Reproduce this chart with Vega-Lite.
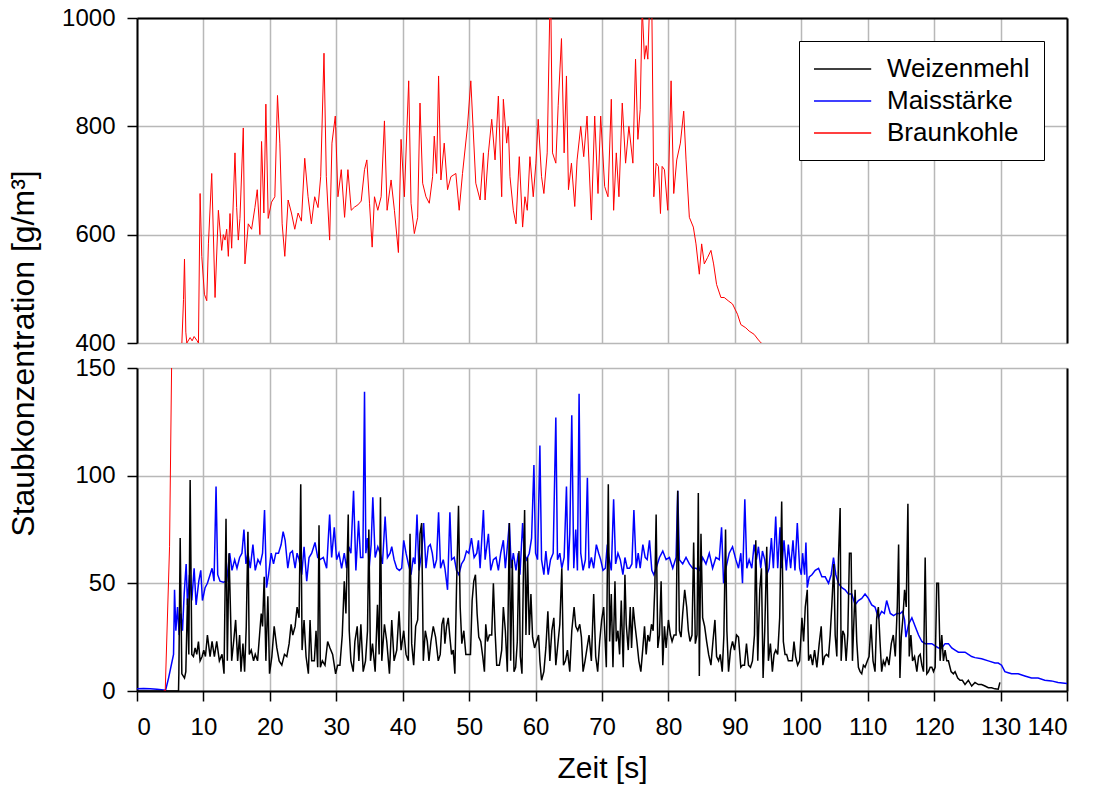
{
"$schema": "https://vega.github.io/schema/vega-lite/v6.json",
"background": "white",
"padding": {"left": 7, "top": 4, "right": 5, "bottom": 5},
"spacing": 25,
"bounds": "flush",
"config": {
  "view": {"stroke": null},
  "font": "Liberation Sans",
  "axis": {"labelFont": "Liberation Sans", "titleFont": "Liberation Sans", "labelColor": "black", "titleColor": "black", "labelFontSize": 24, "titleFontSize": 28, "titleFontWeight": "normal", "gridColor": "#b8b8b8", "gridWidth": 1.5, "gridOpacity": 1, "domainColor": "black", "domainWidth": 2, "tickColor": "black", "tickSize": 10, "tickWidth": 1.5}
},
"resolve": {"legend": {"color": "independent"}},
"datasets": {"d": [
{"s":"Braunkohle","t":4.0,"v":0},{"s":"Braunkohle","t":4.25,"v":0},{"s":"Braunkohle","t":4.9,"v":67},{"s":"Braunkohle","t":5.3,"v":175},{"s":"Braunkohle","t":6.0,"v":300},{"s":"Braunkohle","t":6.75,"v":398},{"s":"Braunkohle","t":7.0,"v":480},{"s":"Braunkohle","t":7.15,"v":555},{"s":"Braunkohle","t":7.35,"v":420},{"s":"Braunkohle","t":7.5,"v":400},{"s":"Braunkohle","t":8.0,"v":410},{"s":"Braunkohle","t":8.3,"v":404},{"s":"Braunkohle","t":8.6,"v":412},{"s":"Braunkohle","t":9.0,"v":405},{"s":"Braunkohle","t":9.25,"v":400},{"s":"Braunkohle","t":9.5,"v":676},{"s":"Braunkohle","t":9.75,"v":560},{"s":"Braunkohle","t":10.15,"v":490},{"s":"Braunkohle","t":10.5,"v":478},{"s":"Braunkohle","t":10.75,"v":583},{"s":"Braunkohle","t":11.25,"v":713},{"s":"Braunkohle","t":11.75,"v":484},{"s":"Braunkohle","t":12.25,"v":645},{"s":"Braunkohle","t":12.75,"v":571},{"s":"Braunkohle","t":13.0,"v":600},{"s":"Braunkohle","t":13.25,"v":590},{"s":"Braunkohle","t":13.5,"v":610},{"s":"Braunkohle","t":13.75,"v":560},{"s":"Braunkohle","t":14.0,"v":639},{"s":"Braunkohle","t":14.25,"v":575},{"s":"Braunkohle","t":14.75,"v":751},{"s":"Braunkohle","t":15.0,"v":650},{"s":"Braunkohle","t":15.25,"v":590},{"s":"Braunkohle","t":15.5,"v":630},{"s":"Braunkohle","t":16.0,"v":797},{"s":"Braunkohle","t":16.25,"v":546},{"s":"Braunkohle","t":16.75,"v":620},{"s":"Braunkohle","t":17.25,"v":610},{"s":"Braunkohle","t":17.75,"v":650},{"s":"Braunkohle","t":18.1,"v":683},{"s":"Braunkohle","t":18.5,"v":600},{"s":"Braunkohle","t":18.75,"v":772},{"s":"Braunkohle","t":19.1,"v":640},{"s":"Braunkohle","t":19.4,"v":841},{"s":"Braunkohle","t":19.75,"v":630},{"s":"Braunkohle","t":20.25,"v":660},{"s":"Braunkohle","t":20.75,"v":670},{"s":"Braunkohle","t":21.15,"v":857},{"s":"Braunkohle","t":21.5,"v":769},{"s":"Braunkohle","t":21.85,"v":620},{"s":"Braunkohle","t":22.25,"v":560},{"s":"Braunkohle","t":22.75,"v":664},{"s":"Braunkohle","t":23.25,"v":640},{"s":"Braunkohle","t":23.75,"v":610},{"s":"Braunkohle","t":24.25,"v":640},{"s":"Braunkohle","t":24.75,"v":625},{"s":"Braunkohle","t":25.25,"v":741},{"s":"Braunkohle","t":25.75,"v":670},{"s":"Braunkohle","t":26.25,"v":620},{"s":"Braunkohle","t":26.75,"v":670},{"s":"Braunkohle","t":27.25,"v":650},{"s":"Braunkohle","t":27.65,"v":707},{"s":"Braunkohle","t":28.15,"v":935},{"s":"Braunkohle","t":28.5,"v":707},{"s":"Braunkohle","t":29.0,"v":590},{"s":"Braunkohle","t":29.35,"v":769},{"s":"Braunkohle","t":29.85,"v":819},{"s":"Braunkohle","t":30.25,"v":670},{"s":"Braunkohle","t":30.75,"v":720},{"s":"Braunkohle","t":31.25,"v":632},{"s":"Braunkohle","t":31.75,"v":720},{"s":"Braunkohle","t":32.25,"v":645},{"s":"Braunkohle","t":32.75,"v":651},{"s":"Braunkohle","t":33.25,"v":655},{"s":"Braunkohle","t":33.75,"v":662},{"s":"Braunkohle","t":34.25,"v":720},{"s":"Braunkohle","t":34.6,"v":738},{"s":"Braunkohle","t":35.0,"v":658},{"s":"Braunkohle","t":35.4,"v":577},{"s":"Braunkohle","t":35.75,"v":670},{"s":"Braunkohle","t":36.25,"v":645},{"s":"Braunkohle","t":36.75,"v":670},{"s":"Braunkohle","t":37.25,"v":810},{"s":"Braunkohle","t":37.65,"v":645},{"s":"Braunkohle","t":38.25,"v":701},{"s":"Braunkohle","t":38.75,"v":645},{"s":"Braunkohle","t":39.35,"v":567},{"s":"Braunkohle","t":39.75,"v":776},{"s":"Braunkohle","t":40.25,"v":670},{"s":"Braunkohle","t":40.9,"v":884},{"s":"Braunkohle","t":41.25,"v":658},{"s":"Braunkohle","t":41.75,"v":602},{"s":"Braunkohle","t":42.25,"v":632},{"s":"Braunkohle","t":42.6,"v":843},{"s":"Braunkohle","t":43.0,"v":695},{"s":"Braunkohle","t":43.5,"v":670},{"s":"Braunkohle","t":44.0,"v":658},{"s":"Braunkohle","t":44.5,"v":707},{"s":"Braunkohle","t":44.75,"v":782},{"s":"Braunkohle","t":45.1,"v":713},{"s":"Braunkohle","t":45.4,"v":893},{"s":"Braunkohle","t":45.75,"v":701},{"s":"Braunkohle","t":46.25,"v":769},{"s":"Braunkohle","t":46.75,"v":683},{"s":"Braunkohle","t":47.25,"v":707},{"s":"Braunkohle","t":48.0,"v":713},{"s":"Braunkohle","t":48.5,"v":645},{"s":"Braunkohle","t":49.0,"v":713},{"s":"Braunkohle","t":49.75,"v":800},{"s":"Braunkohle","t":50.25,"v":884},{"s":"Braunkohle","t":51.0,"v":695},{"s":"Braunkohle","t":51.65,"v":664},{"s":"Braunkohle","t":52.15,"v":751},{"s":"Braunkohle","t":52.4,"v":664},{"s":"Braunkohle","t":52.9,"v":751},{"s":"Braunkohle","t":53.4,"v":813},{"s":"Braunkohle","t":53.9,"v":738},{"s":"Braunkohle","t":54.4,"v":856},{"s":"Braunkohle","t":54.9,"v":670},{"s":"Braunkohle","t":55.15,"v":850},{"s":"Braunkohle","t":55.65,"v":769},{"s":"Braunkohle","t":55.9,"v":800},{"s":"Braunkohle","t":56.15,"v":707},{"s":"Braunkohle","t":56.65,"v":645},{"s":"Braunkohle","t":57.05,"v":620},{"s":"Braunkohle","t":57.55,"v":744},{"s":"Braunkohle","t":58.05,"v":614},{"s":"Braunkohle","t":58.4,"v":670},{"s":"Braunkohle","t":58.75,"v":645},{"s":"Braunkohle","t":59.15,"v":744},{"s":"Braunkohle","t":59.65,"v":670},{"s":"Braunkohle","t":60.05,"v":732},{"s":"Braunkohle","t":60.4,"v":813},{"s":"Braunkohle","t":60.9,"v":707},{"s":"Braunkohle","t":61.25,"v":676},{"s":"Braunkohle","t":61.75,"v":751},{"s":"Braunkohle","t":62.15,"v":1020},{"s":"Braunkohle","t":62.3,"v":1020},{"s":"Braunkohle","t":62.55,"v":751},{"s":"Braunkohle","t":63.05,"v":732},{"s":"Braunkohle","t":63.4,"v":838},{"s":"Braunkohle","t":63.9,"v":962},{"s":"Braunkohle","t":64.3,"v":751},{"s":"Braunkohle","t":64.65,"v":893},{"s":"Braunkohle","t":64.95,"v":683},{"s":"Braunkohle","t":65.4,"v":732},{"s":"Braunkohle","t":65.9,"v":652},{"s":"Braunkohle","t":66.25,"v":738},{"s":"Braunkohle","t":66.8,"v":800},{"s":"Braunkohle","t":67.25,"v":744},{"s":"Braunkohle","t":67.75,"v":819},{"s":"Braunkohle","t":68.4,"v":627},{"s":"Braunkohle","t":68.9,"v":819},{"s":"Braunkohle","t":69.4,"v":676},{"s":"Braunkohle","t":69.8,"v":819},{"s":"Braunkohle","t":70.4,"v":689},{"s":"Braunkohle","t":70.9,"v":670},{"s":"Braunkohle","t":71.4,"v":850},{"s":"Braunkohle","t":71.75,"v":645},{"s":"Braunkohle","t":72.15,"v":751},{"s":"Braunkohle","t":72.55,"v":670},{"s":"Braunkohle","t":73.05,"v":843},{"s":"Braunkohle","t":73.55,"v":732},{"s":"Braunkohle","t":74.05,"v":800},{"s":"Braunkohle","t":74.65,"v":732},{"s":"Braunkohle","t":75.05,"v":924},{"s":"Braunkohle","t":75.4,"v":776},{"s":"Braunkohle","t":75.75,"v":831},{"s":"Braunkohle","t":76.05,"v":1020},{"s":"Braunkohle","t":76.4,"v":924},{"s":"Braunkohle","t":76.65,"v":949},{"s":"Braunkohle","t":76.9,"v":924},{"s":"Braunkohle","t":77.15,"v":1020},{"s":"Braunkohle","t":77.5,"v":1020},{"s":"Braunkohle","t":77.8,"v":670},{"s":"Braunkohle","t":78.15,"v":732},{"s":"Braunkohle","t":78.5,"v":726},{"s":"Braunkohle","t":78.8,"v":639},{"s":"Braunkohle","t":79.05,"v":726},{"s":"Braunkohle","t":79.4,"v":720},{"s":"Braunkohle","t":79.9,"v":645},{"s":"Braunkohle","t":80.4,"v":884},{"s":"Braunkohle","t":80.8,"v":676},{"s":"Braunkohle","t":81.25,"v":738},{"s":"Braunkohle","t":81.8,"v":769},{"s":"Braunkohle","t":82.3,"v":828},{"s":"Braunkohle","t":82.65,"v":738},{"s":"Braunkohle","t":83.15,"v":632},{"s":"Braunkohle","t":83.75,"v":614},{"s":"Braunkohle","t":84.15,"v":583},{"s":"Braunkohle","t":84.65,"v":527},{"s":"Braunkohle","t":85.0,"v":583},{"s":"Braunkohle","t":85.4,"v":546},{"s":"Braunkohle","t":85.9,"v":558},{"s":"Braunkohle","t":86.4,"v":571},{"s":"Braunkohle","t":86.8,"v":546},{"s":"Braunkohle","t":87.25,"v":508},{"s":"Braunkohle","t":87.9,"v":484},{"s":"Braunkohle","t":88.4,"v":484},{"s":"Braunkohle","t":89.0,"v":478},{"s":"Braunkohle","t":89.65,"v":472},{"s":"Braunkohle","t":90.4,"v":453},{"s":"Braunkohle","t":90.9,"v":434},{"s":"Braunkohle","t":91.65,"v":428},{"s":"Braunkohle","t":92.15,"v":422},{"s":"Braunkohle","t":92.9,"v":416},{"s":"Braunkohle","t":93.65,"v":404},{"s":"Braunkohle","t":94.15,"v":398},{"s":"Braunkohle","t":94.5,"v":390},
{"s":"Maisstärke","t":0,"v":1},{"s":"Maisstärke","t":1,"v":1.2},{"s":"Maisstärke","t":2,"v":1},{"s":"Maisstärke","t":3,"v":0.8},{"s":"Maisstärke","t":4,"v":0.5},{"s":"Maisstärke","t":4.3,"v":0.3},{"s":"Maisstärke","t":4.75,"v":6},{"s":"Maisstärke","t":5.5,"v":17},{"s":"Maisstärke","t":5.65,"v":47},{"s":"Maisstärke","t":5.85,"v":28},{"s":"Maisstärke","t":6.1,"v":39},{"s":"Maisstärke","t":6.35,"v":26},{"s":"Maisstärke","t":6.6,"v":36},{"s":"Maisstärke","t":6.85,"v":28},{"s":"Maisstärke","t":7.1,"v":45},{"s":"Maisstärke","t":7.4,"v":59},{"s":"Maisstärke","t":7.6,"v":40},{"s":"Maisstärke","t":7.9,"v":54},{"s":"Maisstärke","t":8.25,"v":42},{"s":"Maisstärke","t":8.6,"v":57},{"s":"Maisstärke","t":8.9,"v":40},{"s":"Maisstärke","t":9.3,"v":51},{"s":"Maisstärke","t":9.6,"v":56},{"s":"Maisstärke","t":9.85,"v":42},{"s":"Maisstärke","t":10.25,"v":48},{"s":"Maisstärke","t":10.6,"v":50},{"s":"Maisstärke","t":11.0,"v":54},{"s":"Maisstärke","t":11.3,"v":57},{"s":"Maisstärke","t":11.6,"v":51},{"s":"Maisstärke","t":11.9,"v":95},{"s":"Maisstärke","t":12.15,"v":54},{"s":"Maisstärke","t":12.5,"v":51},{"s":"Maisstärke","t":13.0,"v":50.5},{"s":"Maisstärke","t":13.5,"v":51},{"s":"Maisstärke","t":13.95,"v":64},{"s":"Maisstärke","t":14.3,"v":56},{"s":"Maisstärke","t":14.7,"v":61},{"s":"Maisstärke","t":15.05,"v":57},{"s":"Maisstärke","t":15.45,"v":62},{"s":"Maisstärke","t":15.8,"v":64},{"s":"Maisstärke","t":16.1,"v":75},{"s":"Maisstärke","t":16.4,"v":59},{"s":"Maisstärke","t":16.7,"v":64},{"s":"Maisstärke","t":17.05,"v":57},{"s":"Maisstärke","t":17.45,"v":68},{"s":"Maisstärke","t":17.8,"v":56},{"s":"Maisstärke","t":18.2,"v":61},{"s":"Maisstärke","t":18.55,"v":59},{"s":"Maisstärke","t":18.9,"v":64},{"s":"Maisstärke","t":19.2,"v":84},{"s":"Maisstärke","t":19.5,"v":48},{"s":"Maisstärke","t":19.8,"v":54},{"s":"Maisstärke","t":20.2,"v":64},{"s":"Maisstärke","t":20.55,"v":59},{"s":"Maisstärke","t":20.9,"v":64},{"s":"Maisstärke","t":21.3,"v":64},{"s":"Maisstärke","t":21.7,"v":68},{"s":"Maisstärke","t":22.0,"v":74},{"s":"Maisstärke","t":22.3,"v":70},{"s":"Maisstärke","t":22.7,"v":57},{"s":"Maisstärke","t":23.05,"v":64},{"s":"Maisstärke","t":23.4,"v":65},{"s":"Maisstärke","t":23.8,"v":57},{"s":"Maisstärke","t":24.1,"v":64},{"s":"Maisstärke","t":24.4,"v":61},{"s":"Maisstärke","t":24.8,"v":54},{"s":"Maisstärke","t":25.15,"v":67},{"s":"Maisstärke","t":25.55,"v":51},{"s":"Maisstärke","t":25.9,"v":62},{"s":"Maisstärke","t":26.3,"v":64},{"s":"Maisstärke","t":26.8,"v":69},{"s":"Maisstärke","t":27.2,"v":62},{"s":"Maisstärke","t":27.55,"v":61},{"s":"Maisstärke","t":28.05,"v":62},{"s":"Maisstärke","t":28.55,"v":57},{"s":"Maisstärke","t":29.0,"v":82},{"s":"Maisstärke","t":29.3,"v":62},{"s":"Maisstärke","t":29.7,"v":76},{"s":"Maisstärke","t":30.05,"v":61},{"s":"Maisstärke","t":30.4,"v":64},{"s":"Maisstärke","t":30.8,"v":57},{"s":"Maisstärke","t":31.2,"v":64},{"s":"Maisstärke","t":31.55,"v":57},{"s":"Maisstärke","t":31.9,"v":67},{"s":"Maisstärke","t":32.2,"v":64},{"s":"Maisstärke","t":32.6,"v":93},{"s":"Maisstärke","t":32.95,"v":56},{"s":"Maisstärke","t":33.35,"v":79},{"s":"Maisstärke","t":33.65,"v":62},{"s":"Maisstärke","t":34.0,"v":62},{"s":"Maisstärke","t":34.25,"v":139},{"s":"Maisstärke","t":34.45,"v":64},{"s":"Maisstärke","t":34.7,"v":71},{"s":"Maisstärke","t":34.95,"v":57},{"s":"Maisstärke","t":35.25,"v":68},{"s":"Maisstärke","t":35.5,"v":90},{"s":"Maisstärke","t":35.85,"v":62},{"s":"Maisstärke","t":36.25,"v":67},{"s":"Maisstärke","t":36.6,"v":64},{"s":"Maisstärke","t":36.95,"v":59},{"s":"Maisstärke","t":37.35,"v":81},{"s":"Maisstärke","t":37.7,"v":62},{"s":"Maisstärke","t":38.1,"v":64},{"s":"Maisstärke","t":38.35,"v":67},{"s":"Maisstärke","t":38.7,"v":61},{"s":"Maisstärke","t":39.1,"v":57},{"s":"Maisstärke","t":39.5,"v":56},{"s":"Maisstärke","t":39.85,"v":57},{"s":"Maisstärke","t":40.15,"v":70},{"s":"Maisstärke","t":40.5,"v":64},{"s":"Maisstärke","t":40.85,"v":59},{"s":"Maisstärke","t":41.25,"v":54},{"s":"Maisstärke","t":41.6,"v":62},{"s":"Maisstärke","t":41.85,"v":59},{"s":"Maisstärke","t":42.15,"v":82},{"s":"Maisstärke","t":42.45,"v":56},{"s":"Maisstärke","t":42.85,"v":64},{"s":"Maisstärke","t":43.15,"v":78},{"s":"Maisstärke","t":43.5,"v":57},{"s":"Maisstärke","t":43.85,"v":67},{"s":"Maisstärke","t":44.15,"v":68},{"s":"Maisstärke","t":44.45,"v":64},{"s":"Maisstärke","t":44.75,"v":57},{"s":"Maisstärke","t":45.1,"v":61},{"s":"Maisstärke","t":45.4,"v":83},{"s":"Maisstärke","t":45.7,"v":57},{"s":"Maisstärke","t":46.1,"v":61},{"s":"Maisstärke","t":46.35,"v":57},{"s":"Maisstärke","t":46.75,"v":47},{"s":"Maisstärke","t":47.1,"v":83},{"s":"Maisstärke","t":47.35,"v":61},{"s":"Maisstärke","t":47.75,"v":62},{"s":"Maisstärke","t":48.1,"v":56},{"s":"Maisstärke","t":48.45,"v":54},{"s":"Maisstärke","t":48.85,"v":59},{"s":"Maisstärke","t":49.25,"v":61},{"s":"Maisstärke","t":49.6,"v":65},{"s":"Maisstärke","t":49.95,"v":64},{"s":"Maisstärke","t":50.35,"v":71},{"s":"Maisstärke","t":50.75,"v":62},{"s":"Maisstärke","t":51.15,"v":64},{"s":"Maisstärke","t":51.4,"v":70},{"s":"Maisstärke","t":51.65,"v":57},{"s":"Maisstärke","t":52.15,"v":84},{"s":"Maisstärke","t":52.4,"v":61},{"s":"Maisstärke","t":52.9,"v":73},{"s":"Maisstärke","t":53.25,"v":56},{"s":"Maisstärke","t":53.65,"v":61},{"s":"Maisstärke","t":54.05,"v":62},{"s":"Maisstärke","t":54.4,"v":56},{"s":"Maisstärke","t":54.75,"v":64},{"s":"Maisstärke","t":55.15,"v":70},{"s":"Maisstärke","t":55.45,"v":57},{"s":"Maisstärke","t":55.75,"v":67},{"s":"Maisstärke","t":56.05,"v":78},{"s":"Maisstärke","t":56.35,"v":57},{"s":"Maisstärke","t":56.65,"v":64},{"s":"Maisstärke","t":57.05,"v":56},{"s":"Maisstärke","t":57.4,"v":64},{"s":"Maisstärke","t":57.65,"v":54},{"s":"Maisstärke","t":58.05,"v":78},{"s":"Maisstärke","t":58.3,"v":64},{"s":"Maisstärke","t":58.65,"v":61},{"s":"Maisstärke","t":59.05,"v":64},{"s":"Maisstärke","t":59.4,"v":71},{"s":"Maisstärke","t":59.75,"v":105},{"s":"Maisstärke","t":60.0,"v":64},{"s":"Maisstärke","t":60.3,"v":61},{"s":"Maisstärke","t":60.65,"v":114},{"s":"Maisstärke","t":60.9,"v":61},{"s":"Maisstärke","t":61.25,"v":54},{"s":"Maisstärke","t":61.55,"v":65},{"s":"Maisstärke","t":61.9,"v":54},{"s":"Maisstärke","t":62.25,"v":61},{"s":"Maisstärke","t":62.65,"v":64},{"s":"Maisstärke","t":63.05,"v":127},{"s":"Maisstärke","t":63.3,"v":61},{"s":"Maisstärke","t":63.65,"v":64},{"s":"Maisstärke","t":63.95,"v":57},{"s":"Maisstärke","t":64.3,"v":62},{"s":"Maisstärke","t":64.65,"v":95},{"s":"Maisstärke","t":64.9,"v":56},{"s":"Maisstärke","t":65.15,"v":73},{"s":"Maisstärke","t":65.45,"v":128},{"s":"Maisstärke","t":65.75,"v":57},{"s":"Maisstärke","t":66.05,"v":75},{"s":"Maisstärke","t":66.3,"v":56},{"s":"Maisstärke","t":66.55,"v":138},{"s":"Maisstärke","t":66.8,"v":64},{"s":"Maisstärke","t":67.15,"v":56},{"s":"Maisstärke","t":67.5,"v":61},{"s":"Maisstärke","t":67.8,"v":99},{"s":"Maisstärke","t":68.05,"v":57},{"s":"Maisstärke","t":68.4,"v":62},{"s":"Maisstärke","t":68.75,"v":57},{"s":"Maisstärke","t":69.15,"v":68},{"s":"Maisstärke","t":69.5,"v":64},{"s":"Maisstärke","t":69.8,"v":61},{"s":"Maisstärke","t":70.15,"v":56},{"s":"Maisstärke","t":70.5,"v":57},{"s":"Maisstärke","t":70.8,"v":68},{"s":"Maisstärke","t":71.05,"v":62},{"s":"Maisstärke","t":71.4,"v":56},{"s":"Maisstärke","t":71.75,"v":89},{"s":"Maisstärke","t":72.05,"v":59},{"s":"Maisstärke","t":72.4,"v":64},{"s":"Maisstärke","t":72.75,"v":61},{"s":"Maisstärke","t":73.15,"v":54},{"s":"Maisstärke","t":73.45,"v":62},{"s":"Maisstärke","t":73.8,"v":57},{"s":"Maisstärke","t":74.15,"v":57},{"s":"Maisstärke","t":74.5,"v":59},{"s":"Maisstärke","t":74.8,"v":84},{"s":"Maisstärke","t":75.15,"v":57},{"s":"Maisstärke","t":75.45,"v":64},{"s":"Maisstärke","t":75.75,"v":57},{"s":"Maisstärke","t":76.15,"v":68},{"s":"Maisstärke","t":76.5,"v":62},{"s":"Maisstärke","t":76.8,"v":61},{"s":"Maisstärke","t":77.15,"v":70},{"s":"Maisstärke","t":77.5,"v":56},{"s":"Maisstärke","t":77.8,"v":54},{"s":"Maisstärke","t":78.15,"v":57},{"s":"Maisstärke","t":78.65,"v":62},{"s":"Maisstärke","t":79.15,"v":65},{"s":"Maisstärke","t":79.65,"v":61},{"s":"Maisstärke","t":80.15,"v":62},{"s":"Maisstärke","t":80.65,"v":57},{"s":"Maisstärke","t":81.15,"v":62},{"s":"Maisstärke","t":81.4,"v":93},{"s":"Maisstärke","t":81.65,"v":61},{"s":"Maisstärke","t":82.15,"v":59},{"s":"Maisstärke","t":82.65,"v":62},{"s":"Maisstärke","t":83.15,"v":59},{"s":"Maisstärke","t":83.65,"v":57},{"s":"Maisstärke","t":84.15,"v":57},{"s":"Maisstärke","t":84.65,"v":56},{"s":"Maisstärke","t":85.15,"v":62},{"s":"Maisstärke","t":85.65,"v":59},{"s":"Maisstärke","t":86.15,"v":64},{"s":"Maisstärke","t":86.65,"v":57},{"s":"Maisstärke","t":87.15,"v":62},{"s":"Maisstärke","t":87.65,"v":61},{"s":"Maisstärke","t":88.0,"v":76},{"s":"Maisstärke","t":88.3,"v":50},{"s":"Maisstärke","t":88.65,"v":57},{"s":"Maisstärke","t":89.15,"v":64},{"s":"Maisstärke","t":89.65,"v":67},{"s":"Maisstärke","t":90.15,"v":61},{"s":"Maisstärke","t":90.55,"v":57},{"s":"Maisstärke","t":90.9,"v":64},{"s":"Maisstärke","t":91.15,"v":50},{"s":"Maisstärke","t":91.5,"v":89},{"s":"Maisstärke","t":91.8,"v":57},{"s":"Maisstärke","t":92.15,"v":61},{"s":"Maisstärke","t":92.55,"v":57},{"s":"Maisstärke","t":92.9,"v":68},{"s":"Maisstärke","t":93.25,"v":61},{"s":"Maisstärke","t":93.55,"v":67},{"s":"Maisstärke","t":93.9,"v":57},{"s":"Maisstärke","t":94.15,"v":65},{"s":"Maisstärke","t":94.5,"v":61},{"s":"Maisstärke","t":94.8,"v":54},{"s":"Maisstärke","t":95.15,"v":57},{"s":"Maisstärke","t":95.5,"v":71},{"s":"Maisstärke","t":95.8,"v":57},{"s":"Maisstärke","t":96.15,"v":81},{"s":"Maisstärke","t":96.45,"v":57},{"s":"Maisstärke","t":96.8,"v":76},{"s":"Maisstärke","t":97.05,"v":57},{"s":"Maisstärke","t":97.4,"v":70},{"s":"Maisstärke","t":97.75,"v":56},{"s":"Maisstärke","t":98.05,"v":68},{"s":"Maisstärke","t":98.4,"v":57},{"s":"Maisstärke","t":98.75,"v":70},{"s":"Maisstärke","t":99.05,"v":56},{"s":"Maisstärke","t":99.4,"v":78},{"s":"Maisstärke","t":99.75,"v":57},{"s":"Maisstärke","t":100.0,"v":54},{"s":"Maisstärke","t":100.2,"v":64},{"s":"Maisstärke","t":100.5,"v":54},{"s":"Maisstärke","t":100.7,"v":69},{"s":"Maisstärke","t":100.9,"v":48},{"s":"Maisstärke","t":101.2,"v":53},{"s":"Maisstärke","t":101.6,"v":54},{"s":"Maisstärke","t":102.1,"v":56},{"s":"Maisstärke","t":102.6,"v":57},{"s":"Maisstärke","t":103.1,"v":53},{"s":"Maisstärke","t":103.6,"v":53},{"s":"Maisstärke","t":104.1,"v":50},{"s":"Maisstärke","t":104.5,"v":54},{"s":"Maisstärke","t":104.85,"v":62},{"s":"Maisstärke","t":105.2,"v":54},{"s":"Maisstärke","t":105.6,"v":50},{"s":"Maisstärke","t":106.1,"v":48},{"s":"Maisstärke","t":106.6,"v":47},{"s":"Maisstärke","t":107.1,"v":45},{"s":"Maisstärke","t":107.6,"v":45},{"s":"Maisstärke","t":108.1,"v":40},{"s":"Maisstärke","t":108.6,"v":42},{"s":"Maisstärke","t":109.1,"v":43},{"s":"Maisstärke","t":109.6,"v":45},{"s":"Maisstärke","t":110.1,"v":43},{"s":"Maisstärke","t":110.6,"v":40},{"s":"Maisstärke","t":111.1,"v":39},{"s":"Maisstärke","t":111.6,"v":34},{"s":"Maisstärke","t":112.1,"v":37},{"s":"Maisstärke","t":112.5,"v":36},{"s":"Maisstärke","t":112.85,"v":42},{"s":"Maisstärke","t":113.4,"v":36},{"s":"Maisstärke","t":113.9,"v":35},{"s":"Maisstärke","t":114.4,"v":36},{"s":"Maisstärke","t":114.9,"v":36},{"s":"Maisstärke","t":115.25,"v":37},{"s":"Maisstärke","t":115.55,"v":33},{"s":"Maisstärke","t":115.75,"v":25},{"s":"Maisstärke","t":116.15,"v":31},{"s":"Maisstärke","t":116.65,"v":34},{"s":"Maisstärke","t":117.15,"v":30},{"s":"Maisstärke","t":117.65,"v":26},{"s":"Maisstärke","t":118.15,"v":23},{"s":"Maisstärke","t":118.65,"v":22},{"s":"Maisstärke","t":119.15,"v":22},{"s":"Maisstärke","t":119.65,"v":22},{"s":"Maisstärke","t":120.15,"v":21},{"s":"Maisstärke","t":120.65,"v":20},{"s":"Maisstärke","t":121.15,"v":20},{"s":"Maisstärke","t":121.65,"v":22},{"s":"Maisstärke","t":122.15,"v":22},{"s":"Maisstärke","t":122.65,"v":20},{"s":"Maisstärke","t":123.15,"v":19},{"s":"Maisstärke","t":123.65,"v":18},{"s":"Maisstärke","t":124.65,"v":18},{"s":"Maisstärke","t":125.15,"v":17},{"s":"Maisstärke","t":125.65,"v":16},{"s":"Maisstärke","t":126.15,"v":15.5},{"s":"Maisstärke","t":127.15,"v":15},{"s":"Maisstärke","t":128.15,"v":14},{"s":"Maisstärke","t":129.15,"v":13},{"s":"Maisstärke","t":129.65,"v":13},{"s":"Maisstärke","t":130.15,"v":12},{"s":"Maisstärke","t":130.65,"v":9},{"s":"Maisstärke","t":131.15,"v":8.5},{"s":"Maisstärke","t":131.65,"v":8},{"s":"Maisstärke","t":132.65,"v":8},{"s":"Maisstärke","t":133.65,"v":7},{"s":"Maisstärke","t":134.65,"v":6},{"s":"Maisstärke","t":135.65,"v":6},{"s":"Maisstärke","t":136.65,"v":5},{"s":"Maisstärke","t":137.65,"v":4.7},{"s":"Maisstärke","t":138.65,"v":4},{"s":"Maisstärke","t":140.0,"v":3.5},
{"s":"Weizenmehl","t":0,"v":0},{"s":"Weizenmehl","t":6.25,"v":0},{"s":"Weizenmehl","t":6.3,"v":8},{"s":"Weizenmehl","t":6.5,"v":71},{"s":"Weizenmehl","t":6.75,"v":8},{"s":"Weizenmehl","t":7.15,"v":6},{"s":"Weizenmehl","t":7.35,"v":9},{"s":"Weizenmehl","t":7.6,"v":43},{"s":"Weizenmehl","t":7.8,"v":17},{"s":"Weizenmehl","t":8.0,"v":98},{"s":"Weizenmehl","t":8.25,"v":17},{"s":"Weizenmehl","t":8.5,"v":16},{"s":"Weizenmehl","t":8.75,"v":20},{"s":"Weizenmehl","t":9.0,"v":17},{"s":"Weizenmehl","t":9.25,"v":23},{"s":"Weizenmehl","t":9.5,"v":14},{"s":"Weizenmehl","t":9.8,"v":16},{"s":"Weizenmehl","t":10.05,"v":19},{"s":"Weizenmehl","t":10.3,"v":16},{"s":"Weizenmehl","t":10.6,"v":26},{"s":"Weizenmehl","t":11.0,"v":16},{"s":"Weizenmehl","t":11.3,"v":23},{"s":"Weizenmehl","t":11.65,"v":16},{"s":"Weizenmehl","t":12.0,"v":23},{"s":"Weizenmehl","t":12.4,"v":14},{"s":"Weizenmehl","t":12.8,"v":17},{"s":"Weizenmehl","t":13.1,"v":8},{"s":"Weizenmehl","t":13.4,"v":80},{"s":"Weizenmehl","t":13.6,"v":14},{"s":"Weizenmehl","t":13.85,"v":64},{"s":"Weizenmehl","t":14.05,"v":40},{"s":"Weizenmehl","t":14.25,"v":14},{"s":"Weizenmehl","t":14.55,"v":23},{"s":"Weizenmehl","t":14.85,"v":33},{"s":"Weizenmehl","t":15.15,"v":14},{"s":"Weizenmehl","t":15.45,"v":26},{"s":"Weizenmehl","t":15.65,"v":9},{"s":"Weizenmehl","t":15.95,"v":22},{"s":"Weizenmehl","t":16.2,"v":9},{"s":"Weizenmehl","t":16.45,"v":30},{"s":"Weizenmehl","t":16.7,"v":74},{"s":"Weizenmehl","t":16.9,"v":17},{"s":"Weizenmehl","t":17.2,"v":19},{"s":"Weizenmehl","t":17.55,"v":14},{"s":"Weizenmehl","t":17.8,"v":17},{"s":"Weizenmehl","t":18.15,"v":14},{"s":"Weizenmehl","t":18.45,"v":26},{"s":"Weizenmehl","t":18.7,"v":36},{"s":"Weizenmehl","t":18.9,"v":30},{"s":"Weizenmehl","t":19.15,"v":53},{"s":"Weizenmehl","t":19.4,"v":14},{"s":"Weizenmehl","t":19.7,"v":44},{"s":"Weizenmehl","t":19.95,"v":8},{"s":"Weizenmehl","t":20.3,"v":16},{"s":"Weizenmehl","t":20.65,"v":30},{"s":"Weizenmehl","t":21.05,"v":20},{"s":"Weizenmehl","t":21.4,"v":14},{"s":"Weizenmehl","t":21.8,"v":12},{"s":"Weizenmehl","t":22.2,"v":17},{"s":"Weizenmehl","t":22.55,"v":16},{"s":"Weizenmehl","t":22.9,"v":22},{"s":"Weizenmehl","t":23.2,"v":31},{"s":"Weizenmehl","t":23.45,"v":26},{"s":"Weizenmehl","t":23.8,"v":30},{"s":"Weizenmehl","t":24.1,"v":39},{"s":"Weizenmehl","t":24.4,"v":34},{"s":"Weizenmehl","t":24.65,"v":96},{"s":"Weizenmehl","t":24.85,"v":19},{"s":"Weizenmehl","t":25.15,"v":33},{"s":"Weizenmehl","t":25.45,"v":16},{"s":"Weizenmehl","t":25.8,"v":8},{"s":"Weizenmehl","t":26.05,"v":33},{"s":"Weizenmehl","t":26.3,"v":14},{"s":"Weizenmehl","t":26.7,"v":14},{"s":"Weizenmehl","t":26.95,"v":28},{"s":"Weizenmehl","t":27.2,"v":11},{"s":"Weizenmehl","t":27.4,"v":77},{"s":"Weizenmehl","t":27.6,"v":11},{"s":"Weizenmehl","t":27.9,"v":14},{"s":"Weizenmehl","t":28.3,"v":12},{"s":"Weizenmehl","t":28.7,"v":23},{"s":"Weizenmehl","t":29.05,"v":20},{"s":"Weizenmehl","t":29.45,"v":17},{"s":"Weizenmehl","t":29.9,"v":8},{"s":"Weizenmehl","t":30.2,"v":12},{"s":"Weizenmehl","t":30.55,"v":12},{"s":"Weizenmehl","t":30.9,"v":26},{"s":"Weizenmehl","t":31.2,"v":51},{"s":"Weizenmehl","t":31.45,"v":36},{"s":"Weizenmehl","t":31.8,"v":82},{"s":"Weizenmehl","t":31.95,"v":28},{"s":"Weizenmehl","t":32.2,"v":14},{"s":"Weizenmehl","t":32.55,"v":9},{"s":"Weizenmehl","t":32.8,"v":23},{"s":"Weizenmehl","t":33.15,"v":30},{"s":"Weizenmehl","t":33.4,"v":14},{"s":"Weizenmehl","t":33.7,"v":31},{"s":"Weizenmehl","t":34.05,"v":9},{"s":"Weizenmehl","t":34.4,"v":14},{"s":"Weizenmehl","t":34.7,"v":28},{"s":"Weizenmehl","t":34.9,"v":75},{"s":"Weizenmehl","t":35.15,"v":14},{"s":"Weizenmehl","t":35.45,"v":22},{"s":"Weizenmehl","t":35.85,"v":9},{"s":"Weizenmehl","t":36.2,"v":40},{"s":"Weizenmehl","t":36.45,"v":17},{"s":"Weizenmehl","t":36.65,"v":90},{"s":"Weizenmehl","t":36.85,"v":14},{"s":"Weizenmehl","t":37.25,"v":31},{"s":"Weizenmehl","t":37.6,"v":23},{"s":"Weizenmehl","t":38.0,"v":8},{"s":"Weizenmehl","t":38.35,"v":33},{"s":"Weizenmehl","t":38.7,"v":14},{"s":"Weizenmehl","t":39.1,"v":19},{"s":"Weizenmehl","t":39.45,"v":37},{"s":"Weizenmehl","t":39.75,"v":19},{"s":"Weizenmehl","t":40.15,"v":28},{"s":"Weizenmehl","t":40.5,"v":17},{"s":"Weizenmehl","t":40.85,"v":14},{"s":"Weizenmehl","t":41.1,"v":73},{"s":"Weizenmehl","t":41.35,"v":22},{"s":"Weizenmehl","t":41.65,"v":12},{"s":"Weizenmehl","t":41.95,"v":30},{"s":"Weizenmehl","t":42.25,"v":33},{"s":"Weizenmehl","t":42.6,"v":73},{"s":"Weizenmehl","t":42.85,"v":78},{"s":"Weizenmehl","t":43.1,"v":14},{"s":"Weizenmehl","t":43.4,"v":28},{"s":"Weizenmehl","t":43.7,"v":23},{"s":"Weizenmehl","t":43.95,"v":14},{"s":"Weizenmehl","t":44.25,"v":23},{"s":"Weizenmehl","t":44.6,"v":30},{"s":"Weizenmehl","t":44.95,"v":25},{"s":"Weizenmehl","t":45.35,"v":14},{"s":"Weizenmehl","t":45.65,"v":17},{"s":"Weizenmehl","t":45.9,"v":31},{"s":"Weizenmehl","t":46.15,"v":34},{"s":"Weizenmehl","t":46.35,"v":22},{"s":"Weizenmehl","t":46.6,"v":30},{"s":"Weizenmehl","t":46.85,"v":34},{"s":"Weizenmehl","t":47.1,"v":25},{"s":"Weizenmehl","t":47.35,"v":17},{"s":"Weizenmehl","t":47.6,"v":19},{"s":"Weizenmehl","t":47.85,"v":8},{"s":"Weizenmehl","t":48.1,"v":48},{"s":"Weizenmehl","t":48.4,"v":86},{"s":"Weizenmehl","t":48.65,"v":39},{"s":"Weizenmehl","t":48.9,"v":22},{"s":"Weizenmehl","t":49.2,"v":28},{"s":"Weizenmehl","t":49.5,"v":17},{"s":"Weizenmehl","t":49.85,"v":17},{"s":"Weizenmehl","t":50.2,"v":17},{"s":"Weizenmehl","t":50.45,"v":42},{"s":"Weizenmehl","t":50.7,"v":51},{"s":"Weizenmehl","t":50.95,"v":54},{"s":"Weizenmehl","t":51.2,"v":36},{"s":"Weizenmehl","t":51.45,"v":25},{"s":"Weizenmehl","t":51.75,"v":23},{"s":"Weizenmehl","t":52.05,"v":16},{"s":"Weizenmehl","t":52.3,"v":9},{"s":"Weizenmehl","t":52.5,"v":31},{"s":"Weizenmehl","t":52.75,"v":23},{"s":"Weizenmehl","t":53.05,"v":26},{"s":"Weizenmehl","t":53.4,"v":26},{"s":"Weizenmehl","t":53.65,"v":50},{"s":"Weizenmehl","t":53.9,"v":28},{"s":"Weizenmehl","t":54.15,"v":12},{"s":"Weizenmehl","t":54.55,"v":12},{"s":"Weizenmehl","t":54.9,"v":19},{"s":"Weizenmehl","t":55.15,"v":39},{"s":"Weizenmehl","t":55.45,"v":28},{"s":"Weizenmehl","t":55.75,"v":9},{"s":"Weizenmehl","t":56.05,"v":78},{"s":"Weizenmehl","t":56.25,"v":14},{"s":"Weizenmehl","t":56.5,"v":61},{"s":"Weizenmehl","t":56.75,"v":9},{"s":"Weizenmehl","t":57.0,"v":11},{"s":"Weizenmehl","t":57.25,"v":23},{"s":"Weizenmehl","t":57.5,"v":65},{"s":"Weizenmehl","t":57.7,"v":16},{"s":"Weizenmehl","t":57.95,"v":8},{"s":"Weizenmehl","t":58.15,"v":51},{"s":"Weizenmehl","t":58.35,"v":84},{"s":"Weizenmehl","t":58.55,"v":26},{"s":"Weizenmehl","t":58.8,"v":62},{"s":"Weizenmehl","t":59.05,"v":26},{"s":"Weizenmehl","t":59.3,"v":45},{"s":"Weizenmehl","t":59.55,"v":25},{"s":"Weizenmehl","t":59.85,"v":20},{"s":"Weizenmehl","t":60.15,"v":23},{"s":"Weizenmehl","t":60.45,"v":26},{"s":"Weizenmehl","t":60.65,"v":14},{"s":"Weizenmehl","t":60.9,"v":5},{"s":"Weizenmehl","t":61.25,"v":9},{"s":"Weizenmehl","t":61.55,"v":20},{"s":"Weizenmehl","t":61.85,"v":37},{"s":"Weizenmehl","t":62.15,"v":14},{"s":"Weizenmehl","t":62.45,"v":28},{"s":"Weizenmehl","t":62.75,"v":34},{"s":"Weizenmehl","t":63.05,"v":12},{"s":"Weizenmehl","t":63.3,"v":20},{"s":"Weizenmehl","t":63.65,"v":31},{"s":"Weizenmehl","t":63.95,"v":57},{"s":"Weizenmehl","t":64.2,"v":12},{"s":"Weizenmehl","t":64.5,"v":14},{"s":"Weizenmehl","t":64.8,"v":19},{"s":"Weizenmehl","t":65.15,"v":9},{"s":"Weizenmehl","t":65.45,"v":28},{"s":"Weizenmehl","t":65.8,"v":39},{"s":"Weizenmehl","t":66.05,"v":30},{"s":"Weizenmehl","t":66.35,"v":28},{"s":"Weizenmehl","t":66.65,"v":31},{"s":"Weizenmehl","t":66.9,"v":25},{"s":"Weizenmehl","t":67.15,"v":9},{"s":"Weizenmehl","t":67.45,"v":14},{"s":"Weizenmehl","t":67.75,"v":20},{"s":"Weizenmehl","t":68.05,"v":26},{"s":"Weizenmehl","t":68.4,"v":14},{"s":"Weizenmehl","t":68.75,"v":45},{"s":"Weizenmehl","t":69.05,"v":16},{"s":"Weizenmehl","t":69.35,"v":9},{"s":"Weizenmehl","t":69.65,"v":23},{"s":"Weizenmehl","t":69.95,"v":33},{"s":"Weizenmehl","t":70.25,"v":39},{"s":"Weizenmehl","t":70.65,"v":11},{"s":"Weizenmehl","t":70.95,"v":96},{"s":"Weizenmehl","t":71.15,"v":23},{"s":"Weizenmehl","t":71.4,"v":45},{"s":"Weizenmehl","t":71.65,"v":11},{"s":"Weizenmehl","t":71.95,"v":51},{"s":"Weizenmehl","t":72.15,"v":23},{"s":"Weizenmehl","t":72.4,"v":28},{"s":"Weizenmehl","t":72.65,"v":17},{"s":"Weizenmehl","t":72.9,"v":42},{"s":"Weizenmehl","t":73.2,"v":11},{"s":"Weizenmehl","t":73.45,"v":54},{"s":"Weizenmehl","t":73.65,"v":31},{"s":"Weizenmehl","t":73.95,"v":19},{"s":"Weizenmehl","t":74.25,"v":39},{"s":"Weizenmehl","t":74.45,"v":20},{"s":"Weizenmehl","t":74.7,"v":39},{"s":"Weizenmehl","t":74.95,"v":31},{"s":"Weizenmehl","t":75.25,"v":23},{"s":"Weizenmehl","t":75.55,"v":14},{"s":"Weizenmehl","t":75.85,"v":9},{"s":"Weizenmehl","t":76.15,"v":20},{"s":"Weizenmehl","t":76.4,"v":30},{"s":"Weizenmehl","t":76.65,"v":17},{"s":"Weizenmehl","t":76.9,"v":26},{"s":"Weizenmehl","t":77.15,"v":23},{"s":"Weizenmehl","t":77.45,"v":31},{"s":"Weizenmehl","t":77.7,"v":28},{"s":"Weizenmehl","t":77.95,"v":48},{"s":"Weizenmehl","t":78.15,"v":82},{"s":"Weizenmehl","t":78.4,"v":20},{"s":"Weizenmehl","t":78.65,"v":26},{"s":"Weizenmehl","t":78.9,"v":51},{"s":"Weizenmehl","t":79.15,"v":12},{"s":"Weizenmehl","t":79.4,"v":30},{"s":"Weizenmehl","t":79.65,"v":20},{"s":"Weizenmehl","t":80.0,"v":33},{"s":"Weizenmehl","t":80.3,"v":26},{"s":"Weizenmehl","t":80.55,"v":23},{"s":"Weizenmehl","t":80.85,"v":26},{"s":"Weizenmehl","t":81.15,"v":26},{"s":"Weizenmehl","t":81.4,"v":93},{"s":"Weizenmehl","t":81.65,"v":28},{"s":"Weizenmehl","t":81.9,"v":25},{"s":"Weizenmehl","t":82.15,"v":36},{"s":"Weizenmehl","t":82.45,"v":47},{"s":"Weizenmehl","t":82.75,"v":39},{"s":"Weizenmehl","t":83.0,"v":28},{"s":"Weizenmehl","t":83.25,"v":23},{"s":"Weizenmehl","t":83.55,"v":26},{"s":"Weizenmehl","t":83.8,"v":69},{"s":"Weizenmehl","t":84.05,"v":22},{"s":"Weizenmehl","t":84.3,"v":26},{"s":"Weizenmehl","t":84.5,"v":92},{"s":"Weizenmehl","t":84.65,"v":7},{"s":"Weizenmehl","t":84.9,"v":73},{"s":"Weizenmehl","t":85.15,"v":34},{"s":"Weizenmehl","t":85.45,"v":30},{"s":"Weizenmehl","t":85.75,"v":23},{"s":"Weizenmehl","t":86.05,"v":17},{"s":"Weizenmehl","t":86.4,"v":12},{"s":"Weizenmehl","t":86.7,"v":23},{"s":"Weizenmehl","t":87.0,"v":33},{"s":"Weizenmehl","t":87.25,"v":16},{"s":"Weizenmehl","t":87.55,"v":14},{"s":"Weizenmehl","t":87.8,"v":17},{"s":"Weizenmehl","t":88.1,"v":9},{"s":"Weizenmehl","t":88.35,"v":26},{"s":"Weizenmehl","t":88.6,"v":75},{"s":"Weizenmehl","t":88.8,"v":28},{"s":"Weizenmehl","t":89.05,"v":9},{"s":"Weizenmehl","t":89.35,"v":19},{"s":"Weizenmehl","t":89.65,"v":23},{"s":"Weizenmehl","t":89.95,"v":19},{"s":"Weizenmehl","t":90.25,"v":26},{"s":"Weizenmehl","t":90.55,"v":25},{"s":"Weizenmehl","t":90.9,"v":11},{"s":"Weizenmehl","t":91.15,"v":12},{"s":"Weizenmehl","t":91.45,"v":12},{"s":"Weizenmehl","t":91.75,"v":22},{"s":"Weizenmehl","t":92.05,"v":12},{"s":"Weizenmehl","t":92.35,"v":11},{"s":"Weizenmehl","t":92.65,"v":14},{"s":"Weizenmehl","t":92.95,"v":26},{"s":"Weizenmehl","t":93.15,"v":70},{"s":"Weizenmehl","t":93.45,"v":14},{"s":"Weizenmehl","t":93.75,"v":47},{"s":"Weizenmehl","t":94.0,"v":57},{"s":"Weizenmehl","t":94.25,"v":6},{"s":"Weizenmehl","t":94.5,"v":28},{"s":"Weizenmehl","t":94.8,"v":67},{"s":"Weizenmehl","t":95.05,"v":14},{"s":"Weizenmehl","t":95.35,"v":22},{"s":"Weizenmehl","t":95.65,"v":9},{"s":"Weizenmehl","t":95.9,"v":17},{"s":"Weizenmehl","t":96.15,"v":19},{"s":"Weizenmehl","t":96.45,"v":17},{"s":"Weizenmehl","t":96.75,"v":34},{"s":"Weizenmehl","t":97.05,"v":88},{"s":"Weizenmehl","t":97.3,"v":23},{"s":"Weizenmehl","t":97.55,"v":17},{"s":"Weizenmehl","t":97.8,"v":17},{"s":"Weizenmehl","t":98.05,"v":14},{"s":"Weizenmehl","t":98.4,"v":14},{"s":"Weizenmehl","t":98.65,"v":14},{"s":"Weizenmehl","t":98.9,"v":23},{"s":"Weizenmehl","t":99.15,"v":16},{"s":"Weizenmehl","t":99.45,"v":12},{"s":"Weizenmehl","t":99.75,"v":14},{"s":"Weizenmehl","t":100.1,"v":34},{"s":"Weizenmehl","t":100.35,"v":23},{"s":"Weizenmehl","t":100.6,"v":39},{"s":"Weizenmehl","t":100.9,"v":47},{"s":"Weizenmehl","t":101.1,"v":14},{"s":"Weizenmehl","t":101.4,"v":17},{"s":"Weizenmehl","t":101.7,"v":12},{"s":"Weizenmehl","t":102.0,"v":19},{"s":"Weizenmehl","t":102.35,"v":11},{"s":"Weizenmehl","t":102.7,"v":22},{"s":"Weizenmehl","t":103.0,"v":30},{"s":"Weizenmehl","t":103.25,"v":12},{"s":"Weizenmehl","t":103.5,"v":16},{"s":"Weizenmehl","t":103.8,"v":17},{"s":"Weizenmehl","t":104.1,"v":16},{"s":"Weizenmehl","t":104.35,"v":26},{"s":"Weizenmehl","t":104.6,"v":40},{"s":"Weizenmehl","t":104.9,"v":59},{"s":"Weizenmehl","t":105.1,"v":26},{"s":"Weizenmehl","t":105.35,"v":16},{"s":"Weizenmehl","t":105.6,"v":62},{"s":"Weizenmehl","t":105.85,"v":85},{"s":"Weizenmehl","t":106.0,"v":14},{"s":"Weizenmehl","t":106.25,"v":28},{"s":"Weizenmehl","t":106.5,"v":26},{"s":"Weizenmehl","t":106.75,"v":14},{"s":"Weizenmehl","t":107.0,"v":26},{"s":"Weizenmehl","t":107.25,"v":64},{"s":"Weizenmehl","t":107.5,"v":64},{"s":"Weizenmehl","t":107.7,"v":14},{"s":"Weizenmehl","t":107.9,"v":31},{"s":"Weizenmehl","t":108.1,"v":47},{"s":"Weizenmehl","t":108.35,"v":23},{"s":"Weizenmehl","t":108.6,"v":11},{"s":"Weizenmehl","t":108.85,"v":9},{"s":"Weizenmehl","t":109.1,"v":8},{"s":"Weizenmehl","t":109.35,"v":12},{"s":"Weizenmehl","t":109.6,"v":11},{"s":"Weizenmehl","t":109.95,"v":14},{"s":"Weizenmehl","t":110.2,"v":16},{"s":"Weizenmehl","t":110.5,"v":31},{"s":"Weizenmehl","t":110.8,"v":14},{"s":"Weizenmehl","t":111.1,"v":9},{"s":"Weizenmehl","t":111.35,"v":34},{"s":"Weizenmehl","t":111.6,"v":39},{"s":"Weizenmehl","t":111.85,"v":23},{"s":"Weizenmehl","t":112.1,"v":9},{"s":"Weizenmehl","t":112.35,"v":14},{"s":"Weizenmehl","t":112.6,"v":12},{"s":"Weizenmehl","t":112.9,"v":16},{"s":"Weizenmehl","t":113.2,"v":12},{"s":"Weizenmehl","t":113.55,"v":22},{"s":"Weizenmehl","t":113.85,"v":26},{"s":"Weizenmehl","t":114.15,"v":16},{"s":"Weizenmehl","t":114.45,"v":39},{"s":"Weizenmehl","t":114.65,"v":68},{"s":"Weizenmehl","t":114.85,"v":6},{"s":"Weizenmehl","t":115.05,"v":25},{"s":"Weizenmehl","t":115.3,"v":34},{"s":"Weizenmehl","t":115.55,"v":47},{"s":"Weizenmehl","t":115.8,"v":39},{"s":"Weizenmehl","t":116.05,"v":87},{"s":"Weizenmehl","t":116.25,"v":16},{"s":"Weizenmehl","t":116.5,"v":26},{"s":"Weizenmehl","t":116.75,"v":14},{"s":"Weizenmehl","t":117.05,"v":16},{"s":"Weizenmehl","t":117.4,"v":9},{"s":"Weizenmehl","t":117.65,"v":16},{"s":"Weizenmehl","t":117.9,"v":17},{"s":"Weizenmehl","t":118.15,"v":12},{"s":"Weizenmehl","t":118.4,"v":9},{"s":"Weizenmehl","t":118.65,"v":62},{"s":"Weizenmehl","t":118.9,"v":8},{"s":"Weizenmehl","t":119.15,"v":9},{"s":"Weizenmehl","t":119.4,"v":11},{"s":"Weizenmehl","t":119.65,"v":11},{"s":"Weizenmehl","t":119.9,"v":9},{"s":"Weizenmehl","t":120.15,"v":11},{"s":"Weizenmehl","t":120.4,"v":50},{"s":"Weizenmehl","t":120.65,"v":50},{"s":"Weizenmehl","t":120.9,"v":14},{"s":"Weizenmehl","t":121.15,"v":26},{"s":"Weizenmehl","t":121.4,"v":14},{"s":"Weizenmehl","t":121.65,"v":19},{"s":"Weizenmehl","t":121.9,"v":14},{"s":"Weizenmehl","t":122.15,"v":14},{"s":"Weizenmehl","t":122.55,"v":9},{"s":"Weizenmehl","t":122.9,"v":8},{"s":"Weizenmehl","t":123.15,"v":9},{"s":"Weizenmehl","t":123.55,"v":6},{"s":"Weizenmehl","t":123.9,"v":5},{"s":"Weizenmehl","t":124.25,"v":5},{"s":"Weizenmehl","t":124.65,"v":3},{"s":"Weizenmehl","t":125.15,"v":5},{"s":"Weizenmehl","t":125.65,"v":2.3},{"s":"Weizenmehl","t":126.15,"v":4},{"s":"Weizenmehl","t":126.65,"v":3},{"s":"Weizenmehl","t":127.15,"v":3},{"s":"Weizenmehl","t":127.65,"v":2.3},{"s":"Weizenmehl","t":128.15,"v":1.5},{"s":"Weizenmehl","t":128.65,"v":1.5},{"s":"Weizenmehl","t":129.15,"v":1},{"s":"Weizenmehl","t":129.65,"v":0.8},{"s":"Weizenmehl","t":129.9,"v":4}
]},
"vconcat": [
 {
  "width": 930, "height": 325,
  "data": {"name": "d"},
  "resolve": {"axis": {"y": "independent"}},
  "layer": [
   {
    "transform": [{"filter": "datum.s == 'Braunkohle'"}],
    "mark": {"type": "line", "clip": true, "strokeWidth": 1},
    "encoding": {
     "x": {"field": "t", "type": "quantitative", "scale": {"domain": [0, 140], "nice": false},
           "axis": {"orient": "top", "values": [0,10,20,30,40,50,60,70,80,90,100,110,120,130,140], "labels": false, "ticks": false, "title": null, "grid": true}},
     "y": {"field": "v", "type": "quantitative", "scale": {"domain": [400, 1000], "nice": false, "zero": false},
           "axis": {"values": [400, 600, 800, 1000], "format": "d", "grid": true, "labelPadding": 12, "title": "Staubkonzentration [g/m³]", "titleX": -97, "titleY": 335, "titleAngle": -90, "titleAlign": "center", "titleBaseline": "bottom", "titleFontSize": 32}},
     "color": {"field": "s", "type": "nominal",
               "scale": {"domain": ["Weizenmehl", "Maisstärke", "Braunkohle"], "range": ["#000000", "#0000ff", "#ff0000"]},
               "legend": {"orient": "top-right", "offset": 23, "title": null, "symbolType": "M-1,0H3.4", "symbolSize": 676, "symbolStrokeWidth": 1.5, "labelFontSize": 26, "labelFont": "Liberation Sans", "labelColor": "black", "strokeColor": "black", "fillColor": "white", "padding": 14, "rowPadding": 5, "labelOffset": 46, "cornerRadius": 0}}
    }
   },
   {
    "transform": [{"filter": "datum.s == 'Braunkohle'"}],
    "mark": {"type": "point", "opacity": 0},
    "encoding": {
     "x": {"field": "t", "type": "quantitative"},
     "y": {"field": "v", "type": "quantitative", "axis": {"orient": "right", "labels": false, "ticks": false, "grid": false, "title": null}}
    }
   }
  ]
 },
 {
  "width": 930, "height": 323,
  "data": {"name": "d"},
  "resolve": {"axis": {"y": "independent"}},
  "layer": [
   {
    "transform": [{"filter": "datum.s == 'Maisstärke'"}],
    "mark": {"type": "line", "clip": true, "strokeWidth": 1.5},
    "encoding": {
     "x": {"field": "t", "type": "quantitative", "scale": {"domain": [0, 140], "nice": false},
           "axis": {"values": [0,10,20,30,40,50,60,70,80,90,100,110,120,130,140], "grid": true, "labelPadding": 14, "title": "Zeit [s]", "titlePadding": 14, "titleFontSize": 30}},
     "y": {"field": "v", "type": "quantitative", "scale": {"domain": [0, 150], "nice": false},
           "axis": {"values": [0, 50, 100, 150], "grid": true, "labelPadding": 12, "title": null}},
     "color": {"field": "s", "type": "nominal", "scale": {"domain": ["Weizenmehl", "Maisstärke", "Braunkohle"], "range": ["#000000", "#0000ff", "#ff0000"]}, "legend": null}
    }
   },
   {
    "transform": [{"filter": "datum.s == 'Weizenmehl'"}],
    "mark": {"type": "line", "clip": true, "strokeWidth": 1.5},
    "encoding": {
     "x": {"field": "t", "type": "quantitative"},
     "y": {"field": "v", "type": "quantitative", "axis": null},
     "color": {"field": "s", "type": "nominal", "legend": null}
    }
   },
   {
    "transform": [{"filter": "datum.s == 'Braunkohle'"}],
    "mark": {"type": "line", "clip": true, "strokeWidth": 1},
    "encoding": {
     "x": {"field": "t", "type": "quantitative"},
     "y": {"field": "v", "type": "quantitative", "axis": null},
     "color": {"field": "s", "type": "nominal", "legend": null}
    }
   },
   {
    "transform": [{"filter": "datum.s == 'Weizenmehl'"}],
    "mark": {"type": "point", "opacity": 0},
    "encoding": {
     "x": {"field": "t", "type": "quantitative"},
     "y": {"field": "v", "type": "quantitative", "axis": {"orient": "right", "labels": false, "ticks": false, "grid": false, "title": null}}
    }
   }
  ]
 }
]
}
